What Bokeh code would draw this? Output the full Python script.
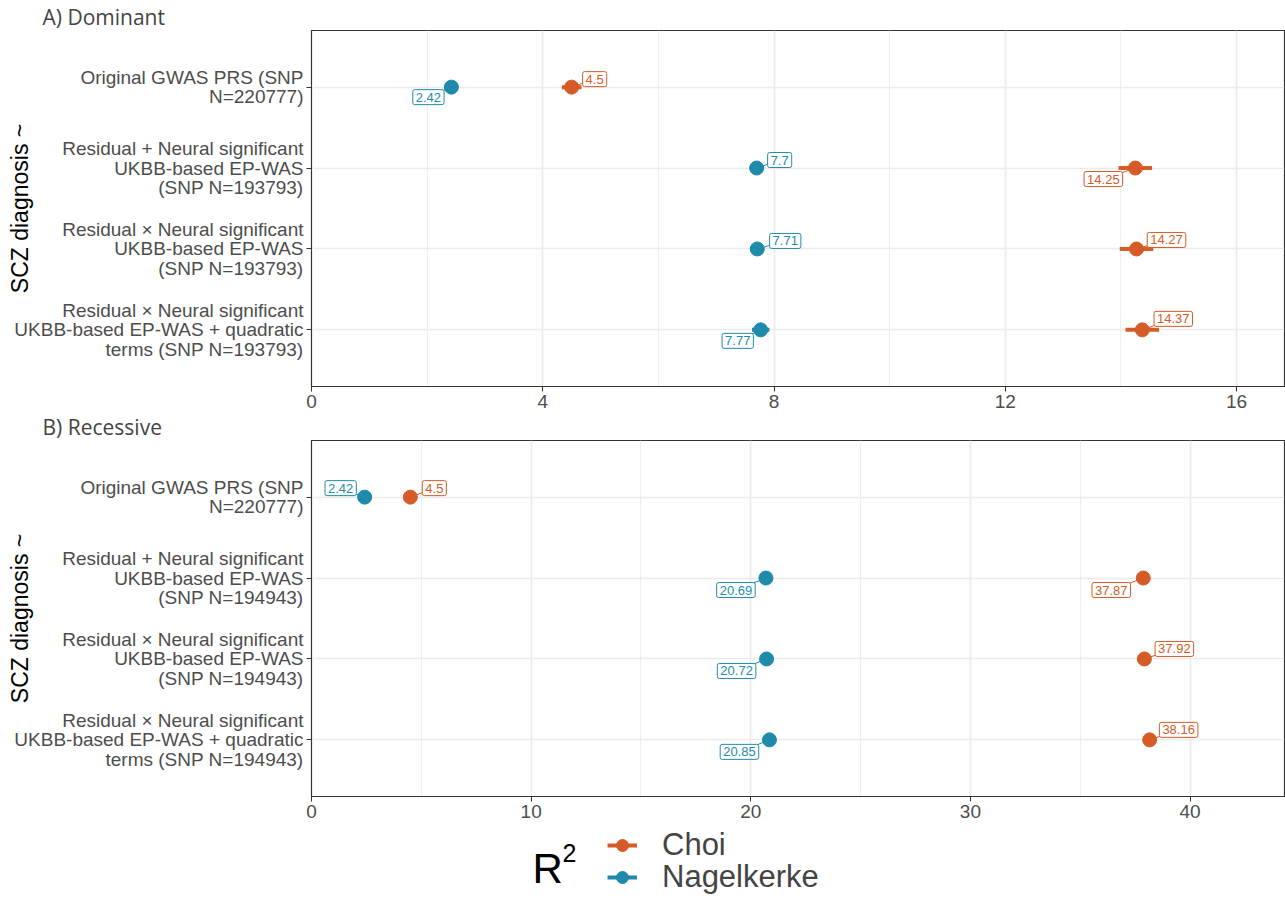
from bokeh.plotting import figure
from bokeh.models import Range1d, FixedTicker, Legend, LegendItem
from bokeh.layouts import column
from bokeh.embed import file_html
from bokeh.resources import INLINE
from bokeh.core.properties import value

# ---------------- data ----------------
models_dom = [
    "Original GWAS PRS (SNP\nN=220777)",
    "Residual + Neural significant\nUKBB-based EP-WAS\n(SNP N=193793)",
    "Residual \u00d7 Neural significant\nUKBB-based EP-WAS\n(SNP N=193793)",
    "Residual \u00d7 Neural significant\nUKBB-based EP-WAS + quadratic\nterms (SNP N=193793)",
]
models_rec = [
    "Original GWAS PRS (SNP\nN=220777)",
    "Residual + Neural significant\nUKBB-based EP-WAS\n(SNP N=194943)",
    "Residual \u00d7 Neural significant\nUKBB-based EP-WAS\n(SNP N=194943)",
    "Residual \u00d7 Neural significant\nUKBB-based EP-WAS + quadratic\nterms (SNP N=194943)",
]
dom_choi = [4.50, 14.25, 14.27, 14.37]
dom_choi_lo = [4.33, 13.96, 13.98, 14.08]
dom_choi_hi = [4.67, 14.54, 14.56, 14.66]
dom_nag = [2.42, 7.70, 7.71, 7.77]
dom_nag_lo = [2.34, 7.58, 7.59, 7.62]
dom_nag_hi = [2.50, 7.82, 7.83, 7.92]
rec_choi = [4.50, 37.87, 37.92, 38.16]
rec_choi_lo = [4.33, 37.60, 37.65, 37.90]
rec_choi_hi = [4.67, 38.14, 38.19, 38.42]
rec_nag = [2.42, 20.69, 20.72, 20.85]
rec_nag_lo = [2.34, 20.55, 20.58, 20.70]
rec_nag_hi = [2.50, 20.83, 20.86, 21.00]
dom_ticks = [0, 4, 8, 12, 16]
rec_ticks = [0, 10, 20, 30, 40]
series_names = ["Choi", "Nagelkerke"]

# ---------------- style ----------------
CHOI = "#D55B27"
NAG = "#1E8BAA"
FONT = "Liberation Sans"
FW, FH = 973, 356
LEFT = 311
YPOS = [4, 3, 2, 1]
YR = (0.3, 4.7)

# label offsets in screen pixels (dx right, dy down), repel-like placement
off_dom_choi = [(23, -8), (-32, 11), (30, -9), (31, -11)]
off_dom_nag = [(-23, 10), (23, -8), (28, -8), (-23, 11)]
off_rec_choi = [(24, -9), (-32, 12), (30, -10), (29, -10)]
off_rec_nag = [(-24, -9), (-30, 12), (-30, 12), (-30, 12)]


def panel(title, labels, xmax, ticks, minor, choi, choi_lo, choi_hi, nag, nag_lo, nag_hi,
          off_c, off_n):
    p = figure(title=title, frame_width=FW, frame_height=FH,
               x_range=Range1d(0, xmax), y_range=Range1d(*YR),
               toolbar_location=None, output_backend="svg",
               min_border_left=LEFT, min_border_right=1, min_border_top=0, min_border_bottom=0)
    p.title.text_font = "Open Sans"
    p.title.text_font_size = "21px"
    p.title.text_font_style = "normal"
    p.title.align = "left"
    p.title.offset = -269
    p.title.standoff = 0
    p.outline_line_color = "#333333"
    p.outline_line_width = 1.2

    p.xaxis.ticker = FixedTicker(ticks=ticks, minor_ticks=minor)
    p.yaxis.ticker = FixedTicker(ticks=YPOS)
    p.yaxis.major_label_overrides = {y: lab for y, lab in zip(YPOS, labels)}
    for ax in (p.xaxis, p.yaxis):
        ax.major_label_text_font = FONT
        ax.major_label_text_font_size = "19px"
        ax.major_label_text_color = "#4D4D4D"
        ax.major_tick_out = 5
        ax.major_tick_in = 0
        ax.major_tick_line_color = "#333333"
        ax.minor_tick_line_color = None
        ax.axis_line_color = "#333333"
        ax.major_label_standoff = 3
    p.yaxis.major_label_text_line_height = 0.92
    p.yaxis.axis_label = "SCZ diagnosis ~"
    p.yaxis.axis_label_text_font = FONT
    p.yaxis.axis_label_text_font_size = "23px"
    p.yaxis.axis_label_text_font_style = "normal"
    p.yaxis.axis_label_text_color = "black"
    p.yaxis.axis_label_standoff = -22

    p.xgrid.grid_line_color = "#EBEBEB"
    p.xgrid.grid_line_width = 1.6
    p.xgrid.minor_grid_line_color = "#EFEFEF"
    p.xgrid.minor_grid_line_width = 1
    p.ygrid.grid_line_color = "#EBEBEB"
    p.ygrid.grid_line_width = 1.6

    ppx = FW / xmax
    ppy = FH / (YR[1] - YR[0])
    for vals, lo, hi, offs, col in ((nag, nag_lo, nag_hi, off_n, NAG),
                                    (choi, choi_lo, choi_hi, off_c, CHOI)):
        dx = [o[0] for o in offs]
        dy = [o[1] for o in offs]
        # repel segments from point to label
        p.segment(x0=vals, y0=YPOS, x1=[v + d / ppx for v, d in zip(vals, dx)],
                  y1=[y - d / ppy for y, d in zip(YPOS, dy)], line_color=col, line_width=1)
        p.segment(x0=lo, y0=YPOS, x1=hi, y1=YPOS, line_color=col, line_width=4)
        p.scatter(vals, YPOS, size=14, fill_color=col, line_color=col)
        p.text(x=vals, y=YPOS, text=[f"{v:g}" for v in vals], x_offset=dx, y_offset=dy,
               text_align="center", text_baseline="middle", text_font_size="13px",
               text_font=value(FONT), text_color=col, background_fill_color="white",
               border_line_color=col, border_line_width=1, padding=3, border_radius=2)
    return p


p1 = panel("A) Dominant", models_dom, 16.83, dom_ticks, [2, 6, 10, 14],
           dom_choi, dom_choi_lo, dom_choi_hi, dom_nag, dom_nag_lo, dom_nag_hi,
           off_dom_choi, off_dom_nag)
p2 = panel("B) Recessive", models_rec, 44.3, rec_ticks, [5, 15, 25, 35],
           rec_choi, rec_choi_lo, rec_choi_hi, rec_nag, rec_nag_lo, rec_nag_hi,
           off_rec_choi, off_rec_nag)

# ---------------- legend ----------------
LH = 76
pl = figure(frame_width=FW, frame_height=LH, x_range=Range1d(0, FW), y_range=Range1d(0, LH),
            toolbar_location=None, output_backend="svg",
            min_border_left=LEFT, min_border_right=1, min_border_top=0, min_border_bottom=0)
pl.axis.visible = False
pl.grid.visible = False
pl.outline_line_color = None
pl.text(x=[221], y=[28], text=["R"], text_font_size="42px", text_font=value(FONT),
        text_baseline="middle", text_align="left", text_color="black")
pl.text(x=[251], y=[44], text=["2"], text_font_size="25px", text_font=value(FONT),
        text_baseline="middle", text_align="left", text_color="black")
for name, col, yc in ((series_names[0], CHOI, 53), (series_names[1], NAG, 21)):
    seg = pl.segment(x0=[-50], y0=[-50], x1=[-40], y1=[-50], line_color=col, line_width=4)
    dot = pl.scatter([-50], [-50], size=20, fill_color=col, line_color=col)
    leg = Legend(items=[LegendItem(label=name, renderers=[seg, dot])],
                 location=(296, yc - 22), padding=0, margin=0, spacing=0,
                 glyph_width=30, glyph_height=40, label_height=20, label_standoff=25,
                 label_text_font=FONT, label_text_font_size="31px",
                 border_line_color=None, background_fill_alpha=0)
    pl.add_layout(leg, "center")

layout = column(p1, p2, pl, spacing=0)
open("out.html", "w").write(file_html(layout, INLINE))
